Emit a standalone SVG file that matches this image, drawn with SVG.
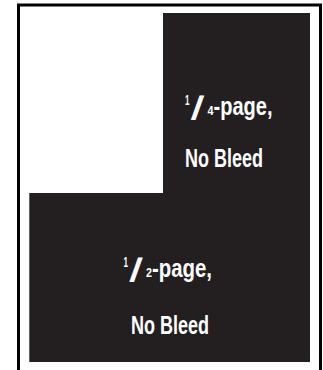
<svg xmlns="http://www.w3.org/2000/svg" width="323" height="370" viewBox="0 0 323 370">
<style>
.blk{fill:#231f20}
.t{font-family:"Liberation Sans",Arial,sans-serif;font-weight:bold;fill:#ffffff}
.sl{font-family:"DejaVu Sans",sans-serif;font-weight:bold;stroke:#ffffff;stroke-width:0.8}
</style>
<rect width="323" height="370" fill="#ffffff"/>
<rect id="page" x="18.5" y="5" width="302" height="372" fill="none" stroke="#000000" stroke-width="3"/>
<g id="quarter-page">
<rect class="blk" x="163" y="13" width="147" height="181"/>
<text class="t"><tspan x="185" y="105" font-size="15" textLength="4.5" lengthAdjust="spacingAndGlyphs">1</tspan><tspan class="sl" x="191.5" y="116.5" font-size="28" textLength="12" lengthAdjust="spacingAndGlyphs">/</tspan><tspan x="207.5" y="115" font-size="13" textLength="6" lengthAdjust="spacingAndGlyphs">4</tspan><tspan x="213.5" y="115" font-size="25" textLength="59" lengthAdjust="spacingAndGlyphs">-page,</tspan></text>
<text class="t" x="185" y="166.5" font-size="25" textLength="78" lengthAdjust="spacingAndGlyphs">No Bleed</text>
</g>
<g id="half-page">
<rect class="blk" x="29.3" y="193" width="280.7" height="169"/>
<text class="t"><tspan x="123.5" y="267" font-size="15" textLength="4.5" lengthAdjust="spacingAndGlyphs">1</tspan><tspan class="sl" x="130" y="278.5" font-size="28" textLength="12" lengthAdjust="spacingAndGlyphs">/</tspan><tspan x="146" y="277" font-size="13" textLength="6" lengthAdjust="spacingAndGlyphs">2</tspan><tspan x="152" y="277" font-size="25" textLength="60" lengthAdjust="spacingAndGlyphs">-page,</tspan></text>
<text class="t" x="131" y="333.5" font-size="25" textLength="78" lengthAdjust="spacingAndGlyphs">No Bleed</text>
</g>
<g id="connectors"/>
</svg>
